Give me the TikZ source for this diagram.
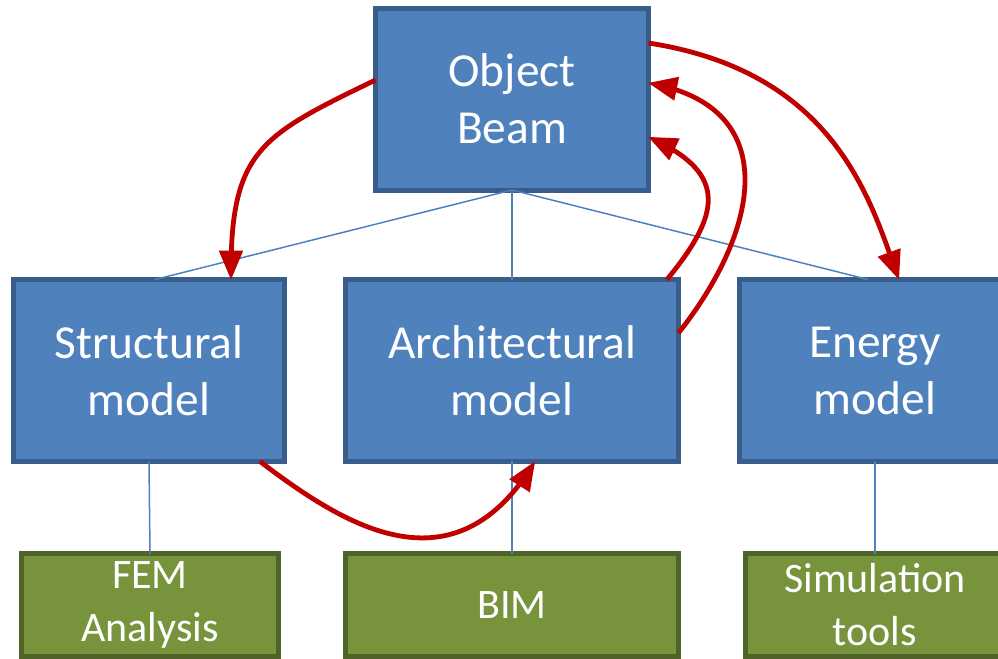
\documentclass[tikz,border=0pt]{standalone}
\usepackage{fontspec}
\setmainfont{Carlito}
\usetikzlibrary{arrows}
\usetikzlibrary{positioning}

\definecolor{boxblue}{HTML}{4F81BD}
\definecolor{edgeblue}{HTML}{385D8A}
\definecolor{boxgreen}{HTML}{77933C}
\definecolor{edgegreen}{HTML}{4F6228}
\definecolor{flowred}{HTML}{C00000}

\begin{document}
\begin{tikzpicture}[line cap=round,line join=round,>=triangle 45,x=0.5pt,y=-0.5pt,
  model/.style={draw=edgeblue,fill=boxblue,line width=2.5pt,line join=miter,text=white,align=center,
    font=\fontsize{23.7}{28.5}\selectfont,inner sep=0pt,outer sep=0pt,minimum height=91pt},
  tool/.style={draw=edgegreen,fill=boxgreen,line width=2.5pt,line join=miter,text=white,align=center,
    font=\fontsize{21}{26.5}\selectfont,inner sep=0pt,outer sep=0pt,minimum height=51.5pt},
  link/.style={draw=boxblue,line width=0.75pt},
  flow/.style={draw=flowred,line width=2.4pt,line cap=butt,->}]
\clip (0,0) rectangle (998,659);
\node[model,minimum width=136.5pt] (beam) at (512,99) {Object\\Beam};
\node[model,minimum width=135.5pt] (struct) at (149,370.5) {Structural\\model};
\node[model,minimum width=166.5pt] (arch) at (512,370.5) {Architectural\\model};
\node[model,minimum width=135.5pt] (energy) at (875,370.5) {Energy\\model};
\node[tool,minimum width=128.5pt] (fem) at (150,605) {FEM\\Analysis};
\node[tool,minimum width=166.5pt] (bim) at (512,605) {BIM};
\node[tool,minimum width=129.5pt] (sim) at (875,605) {Simulation\\tools};
% hierarchy
\draw [link] (beam.south) -- ([xshift=3pt]struct.north);
\draw [link] (beam.south) -- (arch.north);
\draw [link] (beam.south) -- ([xshift=-3.5pt]energy.north);
\draw [link] (struct.south) -- (fem.north);
\draw [link] (arch.south) -- (bim.north);
\draw [link] (energy.south) -- (sim.north);
% exchanges
\draw [flow] ([yshift=9.5pt]beam.west) .. controls (262,135) and (231,150) .. ([xshift=41pt]struct.north);
\draw [flow] ([yshift=28pt]beam.east) .. controls (835,72) and (870,200) .. ([xshift=12pt]energy.north);
\draw [flow] ([xshift=77.5pt]arch.north) .. controls (720,215) and (728,175) .. ([yshift=-19pt]beam.east);
\draw [flow] ([yshift=18.75pt]arch.east) .. controls (760,230) and (782,110) .. ([yshift=8pt]beam.east);
\draw [flow] ([xshift=55.5pt]struct.south) .. controls (340,522) and (450,595) .. ([xshift=11.5pt]arch.south);
\end{tikzpicture}
\end{document}
